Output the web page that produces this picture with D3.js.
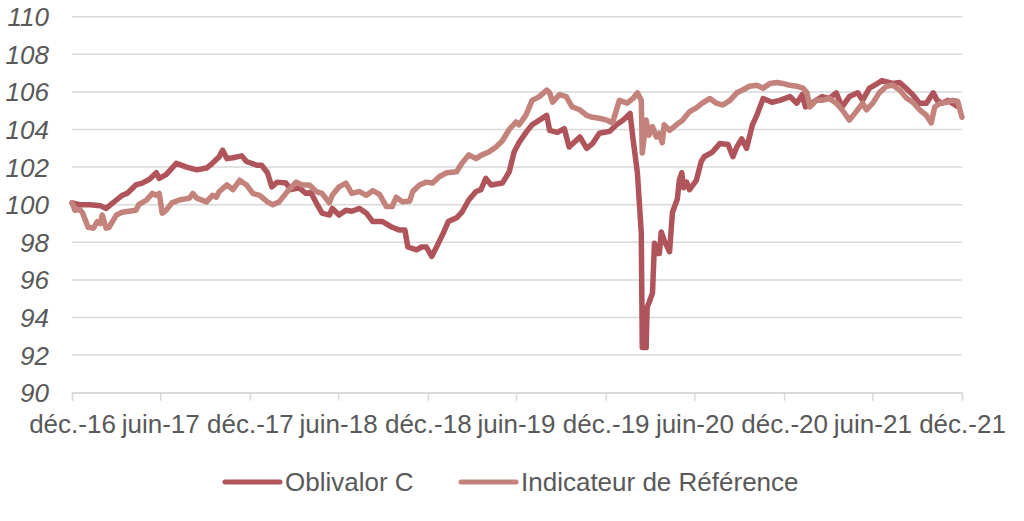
<!DOCTYPE html>
<html><head><meta charset="utf-8">
<script src="https://cdn.jsdelivr.net/npm/d3@7"></script>
<style>
html,body{margin:0;padding:0;background:#fff;}
svg{display:block;font-family:"Liberation Sans",Arial,sans-serif;}
</style></head>
<body>
<svg id="chart" width="1024" height="521"></svg>
<script>
const seriesNames = ["Oblivalor C", "Indicateur de Référence"];
const seriesColors = ["#B0545C", "#C3827B"];

const yTicks = [90, 92, 94, 96, 98, 100, 102, 104, 106, 108, 110];
const xTickDates = ["2016-12-31","2017-06-30","2017-12-31","2018-06-30","2018-12-31","2019-06-30","2019-12-31","2020-06-30","2020-12-31","2021-06-30","2021-12-31"];
const xTickLabels = ["déc.-16","juin-17","déc.-17","juin-18","déc.-18","juin-19","déc.-19","juin-20","déc.-20","juin-21","déc.-21"];

const oblivalorDates = ["2016-12-31","2017-01-16","2017-02-06","2017-02-27","2017-03-11","2017-04-01","2017-04-13","2017-04-23","2017-05-11","2017-05-24","2017-06-08","2017-06-22","2017-06-28","2017-07-12","2017-08-02","2017-08-23","2017-09-13","2017-10-03","2017-10-15","2017-10-29","2017-11-05","2017-11-14","2017-11-26","2017-12-14","2017-12-24","2018-01-14","2018-01-24","2018-02-05","2018-02-14","2018-02-25","2018-03-15","2018-03-25","2018-04-11","2018-04-25","2018-05-05","2018-05-16","2018-05-28","2018-06-12","2018-06-18","2018-07-02","2018-07-16","2018-07-28","2018-08-13","2018-08-27","2018-09-09","2018-09-29","2018-10-19","2018-11-03","2018-11-14","2018-11-20","2018-12-08","2018-12-18","2018-12-28","2019-01-08","2019-01-18","2019-02-01","2019-02-11","2019-02-28","2019-03-11","2019-03-25","2019-04-09","2019-04-19","2019-04-29","2019-05-10","2019-06-02","2019-06-16","2019-06-26","2019-07-06","2019-07-22","2019-08-02","2019-08-17","2019-09-01","2019-09-07","2019-09-23","2019-10-07","2019-10-17","2019-11-08","2019-11-22","2019-12-04","2019-12-18","2020-01-08","2020-01-22","2020-02-05","2020-02-19","2020-02-25","2020-03-05","2020-03-13","2020-03-15","2020-03-23","2020-03-25","2020-03-29","2020-04-05","2020-04-09","2020-04-13","2020-04-19","2020-04-23","2020-04-29","2020-05-10","2020-05-16","2020-05-26","2020-05-30","2020-06-04","2020-06-08","2020-06-14","2020-06-20","2020-07-04","2020-07-14","2020-07-20","2020-08-06","2020-08-21","2020-09-07","2020-09-17","2020-09-25","2020-10-05","2020-10-15","2020-10-27","2020-11-05","2020-11-18","2020-12-06","2020-12-22","2021-01-12","2021-01-26","2021-02-06","2021-02-13","2021-02-28","2021-03-19","2021-04-03","2021-04-17","2021-04-29","2021-05-14","2021-05-31","2021-06-10","2021-06-24","2021-07-04","2021-07-20","2021-08-11","2021-08-25","2021-09-05","2021-09-21","2021-10-05","2021-10-19","2021-11-02","2021-11-10","2021-11-20","2021-12-02","2021-12-20","2021-12-31"];
const oblivalorValues = [100.1,100.0,100.0,99.95,99.8,100.25,100.5,100.6,101.05,101.15,101.35,101.7,101.4,101.6,102.2,102.0,101.85,101.95,102.2,102.55,102.9,102.45,102.5,102.6,102.3,102.1,102.1,101.7,100.95,101.2,101.15,100.8,100.9,100.6,100.65,100.1,99.55,99.45,99.8,99.45,99.7,99.65,99.8,99.55,99.1,99.1,98.8,98.65,98.65,97.75,97.6,97.75,97.75,97.25,97.75,98.5,99.1,99.3,99.6,100.25,100.7,100.8,101.4,101.05,101.15,101.75,102.8,103.3,103.9,104.25,104.5,104.75,103.95,103.85,104.05,103.07,103.6,103.0,103.25,103.8,103.9,104.25,104.5,104.85,103.5,101.7,98.5,92.4,92.4,94.55,94.8,95.3,97.95,97.4,97.4,98.55,98.1,97.5,99.6,100.3,101.3,101.7,100.9,101.2,100.8,101.3,102.3,102.55,102.8,103.25,103.2,102.55,103.07,103.5,103.0,104.25,104.75,105.65,105.45,105.55,105.75,105.4,105.85,105.2,105.45,105.75,105.65,105.95,105.2,105.75,105.95,105.55,106.2,106.35,106.6,106.45,106.5,106.25,105.85,105.4,105.4,105.95,105.55,105.4,105.55,105.25];

const indicDates = ["2016-12-31","2017-01-06","2017-01-16","2017-01-22","2017-02-02","2017-02-13","2017-02-21","2017-02-27","2017-03-03","2017-03-11","2017-03-17","2017-04-01","2017-04-13","2017-04-27","2017-05-11","2017-05-17","2017-06-02","2017-06-14","2017-06-22","2017-06-28","2017-07-04","2017-07-12","2017-07-24","2017-08-08","2017-08-29","2017-09-05","2017-09-13","2017-10-03","2017-10-15","2017-10-23","2017-10-29","2017-11-14","2017-11-26","2017-12-10","2017-12-24","2018-01-06","2018-01-20","2018-02-05","2018-02-16","2018-03-01","2018-03-21","2018-04-05","2018-04-17","2018-05-02","2018-05-16","2018-05-28","2018-06-12","2018-06-18","2018-07-02","2018-07-16","2018-07-28","2018-08-13","2018-08-27","2018-09-09","2018-09-23","2018-10-07","2018-10-19","2018-10-27","2018-11-09","2018-11-24","2018-11-30","2018-12-14","2018-12-28","2019-01-10","2019-01-24","2019-02-08","2019-02-28","2019-03-11","2019-03-25","2019-04-09","2019-04-21","2019-05-05","2019-05-20","2019-06-02","2019-06-16","2019-06-30","2019-07-06","2019-07-20","2019-08-02","2019-08-17","2019-09-01","2019-09-07","2019-09-13","2019-09-27","2019-10-11","2019-10-23","2019-11-08","2019-11-22","2019-12-04","2019-12-18","2020-01-02","2020-01-14","2020-01-28","2020-02-13","2020-02-25","2020-03-05","2020-03-13","2020-03-15","2020-03-23","2020-03-29","2020-04-05","2020-04-13","2020-04-19","2020-04-25","2020-04-29","2020-05-10","2020-05-24","2020-06-06","2020-06-20","2020-07-04","2020-07-16","2020-08-01","2020-08-14","2020-08-27","2020-09-11","2020-09-25","2020-10-07","2020-10-21","2020-11-05","2020-11-18","2020-12-02","2020-12-16","2020-12-28","2021-01-12","2021-01-26","2021-02-08","2021-02-16","2021-02-22","2021-03-07","2021-03-19","2021-04-03","2021-04-17","2021-04-29","2021-05-14","2021-05-28","2021-06-10","2021-06-18","2021-07-01","2021-07-14","2021-07-29","2021-08-11","2021-08-25","2021-09-09","2021-09-21","2021-10-05","2021-10-19","2021-10-29","2021-11-05","2021-11-16","2021-11-30","2021-12-12","2021-12-22","2021-12-31"];
const indicValues = [100.1,99.7,99.75,99.55,98.8,98.75,99.1,99.0,99.45,98.75,98.8,99.45,99.6,99.65,99.7,100.0,100.25,100.6,100.5,100.6,99.55,99.7,100.1,100.25,100.35,100.6,100.35,100.15,100.5,100.4,100.7,101.05,100.8,101.3,101.05,100.6,100.5,100.15,100.0,100.15,100.8,101.2,101.05,101.05,100.7,100.6,100.1,100.5,100.95,101.15,100.6,100.7,100.5,100.75,100.55,99.9,99.9,100.4,100.15,100.2,100.7,101.05,101.2,101.15,101.5,101.7,101.75,102.2,102.65,102.45,102.65,102.8,103.07,103.4,104.0,104.4,104.25,104.75,105.55,105.75,106.1,105.95,105.45,105.85,105.75,105.2,105.05,104.75,104.65,104.6,104.5,104.35,105.55,105.4,105.65,105.95,105.55,102.75,104.5,103.7,104.15,103.6,103.8,103.3,104.25,103.95,104.25,104.5,104.95,105.15,105.4,105.65,105.4,105.3,105.55,105.95,106.1,106.3,106.35,106.2,106.45,106.5,106.45,106.35,106.3,106.2,105.95,105.2,105.55,105.55,105.65,105.4,105.05,104.5,104.95,105.4,105.05,105.4,105.95,106.3,106.35,106.1,105.65,105.45,105.05,104.75,104.35,105.2,105.4,105.45,105.55,105.5,104.65];

const parse = d3.timeParse("%Y-%m-%d");
const svg = d3.select("#chart");
const x = d3.scaleTime().domain([parse("2016-12-31"), parse("2021-12-31")]).range([72, 962]);
const y = d3.scaleLinear().domain([90, 110]).range([392.7, 16.7]);
const textColor = "#595959";
const gridColor = "#D9D9D9";

// grid lines
svg.append("g").selectAll("line").data(yTicks).join("line")
  .attr("x1", 72).attr("x2", 962)
  .attr("y1", d => y(d)).attr("y2", d => y(d))
  .attr("stroke", gridColor).attr("stroke-width", 1.5);

// y labels
svg.append("g").selectAll("text").data(yTicks).join("text")
  .attr("x", 49).attr("y", d => y(d) + 9.5)
  .attr("text-anchor", "end").attr("font-size", 26).attr("font-style", "italic")
  .attr("fill", textColor).text(d => d);

// x axis
const xAxis = d3.axisBottom(x)
  .tickValues(xTickDates.map(parse))
  .tickFormat((d, i) => xTickLabels[i])
  .tickSize(8).tickPadding(14);
const gx = svg.append("g").attr("transform", `translate(0,${y(90)})`).call(xAxis);
gx.select(".domain").attr("stroke", gridColor).attr("stroke-width", 1.5);
gx.selectAll(".tick line").attr("stroke", gridColor).attr("stroke-width", 1.5);
gx.selectAll(".tick text").attr("font-size", 26).attr("fill", textColor)
  .attr("font-family", "'Liberation Sans', Arial, sans-serif");

// lines
const line = d3.line().x(d => x(d[0])).y(d => y(d[1])).curve(d3.curveLinear);
const s1 = oblivalorDates.map((d, i) => [parse(d), oblivalorValues[i]]);
const s2 = indicDates.map((d, i) => [parse(d), indicValues[i]]);
[[s1, seriesColors[0]], [s2, seriesColors[1]]].forEach(([data, c]) => {
  svg.append("path").datum(data).attr("d", line)
    .attr("fill", "none").attr("stroke", c).attr("stroke-width", 5.5)
    .attr("stroke-linejoin", "round").attr("stroke-linecap", "round");
});

// legend
const legendItems = [{x: 225, tx: 285}, {x: 461, tx: 521}];
legendItems.forEach((it, i) => {
  const g = svg.append("g");
  g.append("line").attr("x1", it.x).attr("x2", it.x + 55).attr("y1", 482).attr("y2", 482)
    .attr("stroke", seriesColors[i]).attr("stroke-width", 5).attr("stroke-linecap", "round");
  g.append("text").attr("x", it.tx).attr("y", 491).attr("font-size", 26)
    .attr("fill", textColor).text(seriesNames[i]);
});
</script>
</body></html>
